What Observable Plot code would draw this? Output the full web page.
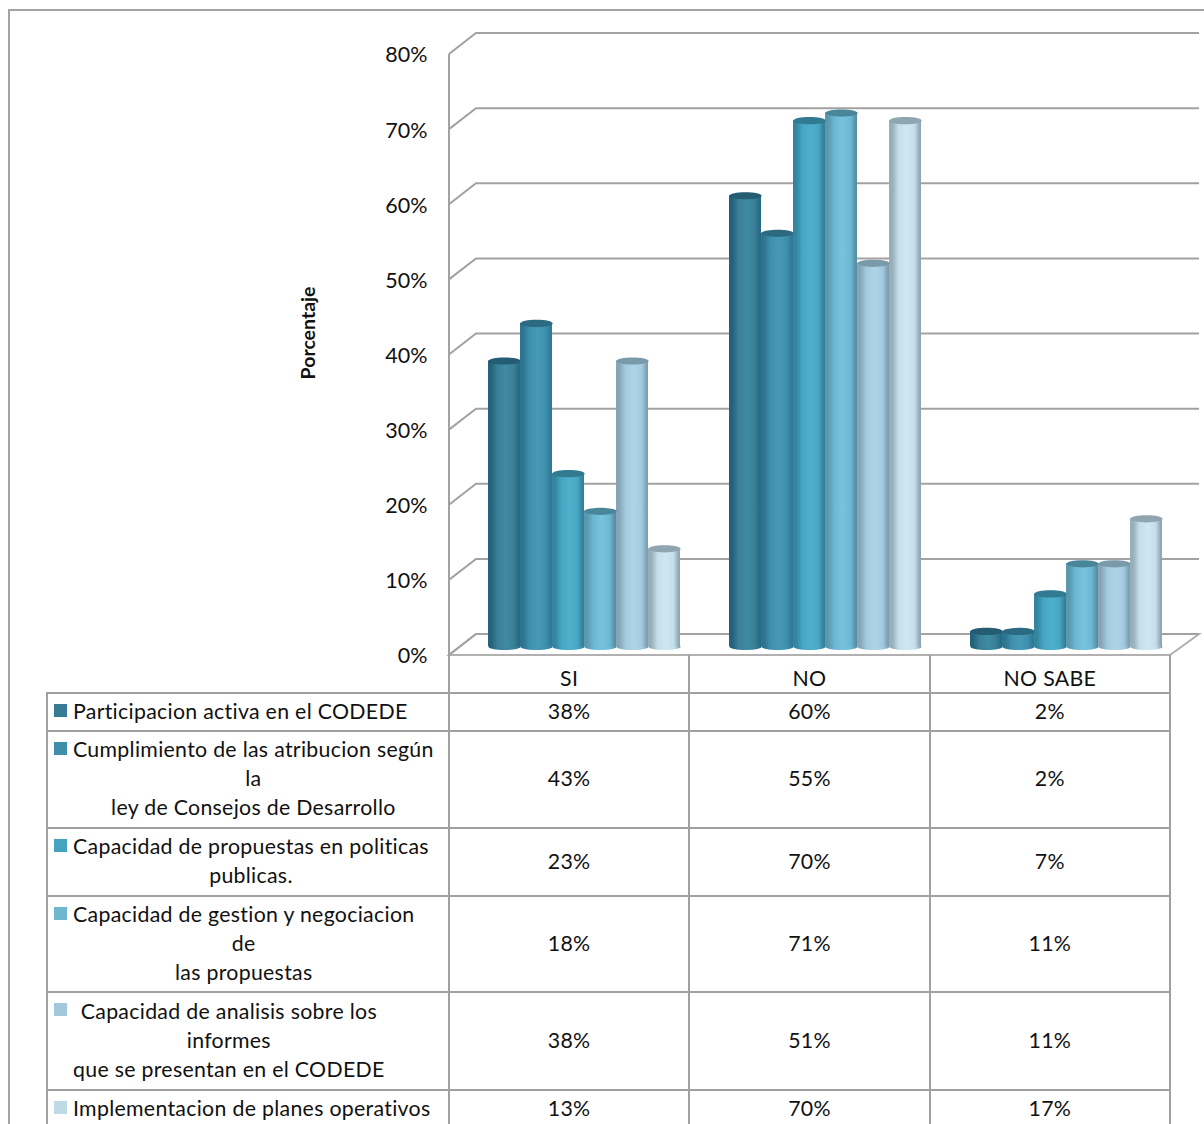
<!DOCTYPE html>
<html lang="es">
<head>
<meta charset="utf-8">
<title>Porcentaje por criterio</title>
<script src="https://cdn.jsdelivr.net/npm/d3@7"></script>
<script src="https://cdn.jsdelivr.net/npm/@observablehq/plot@0.6"></script>
<style>
  html, body { margin: 0; padding: 0; width: 1204px; height: 1124px; overflow: hidden; background: #fff; }
  body { position: relative; font-family: Lato, "Open Sans", sans-serif; color: #111; font-variant-ligatures: none; }
  #marco { position: absolute; left: 8px; top: 9px; right: -4px; bottom: -4px; border: 2px solid #a3a3a3; }
  #grafico { position: relative; height: 656px; }
  #grafico svg { overflow: visible; display: block; }
  table { position: relative; margin-left: 46px; margin-top: -1px; border-collapse: collapse; table-layout: fixed; width: 1125px; font-size: 21.3px; line-height: 29px; letter-spacing: 0.3px; }
  col.leyenda { width: 402px; }
  td { border: 2px solid #a0a0a0; text-align: center; padding: 0 0 2px; background: transparent; box-sizing: border-box; }
  tr.cabecera td { padding: 9px 0 0; line-height: 24px; }
  tr.cabecera td:first-child { border-left: none; border-top: none; }
  tr.cabecera td:not(:first-child) { border-top: none; }
  td.clave { position: relative; text-align: left; padding-left: 25px; white-space: nowrap; }
  td.clave i { position: absolute; left: 6px; top: 10px; width: 13px; height: 13px; }
  td.clave span { display: inline-block; text-align: center; }
</style>
</head>
<body>
<div id="marco"></div>
<div id="grafico"></div>
<script>
// Respuestas por criterio y categoria (porcentajes)
const categorias = ["SI", "NO", "NO SABE"];
const criterios = [
  ["Participacion activa en el CODEDE"],
  ["Cumplimiento de las atribucion según", "la", "ley de Consejos de Desarrollo"],
  ["Capacidad de propuestas en politicas", "publicas."],
  ["Capacidad de gestion y negociacion", "de", "las propuestas"],
  ["Capacidad de analisis sobre los", "informes", "que se presentan en el CODEDE"],
  ["Implementacion de planes operativos"]
];
const valoresSi = [38, 43, 23, 18, 38, 13];
const valoresNo = [60, 55, 70, 71, 51, 70];
const valoresNoSabe = [2, 2, 7, 11, 11, 17];
const marcasY = [0, 10, 20, 30, 40, 50, 60, 70, 80];

// Alturas de las filas de la tabla (cabecera y una por criterio)
const alturaCabecera = 38;
const alturasFila = [38, 97, 68, 96, 98, 38];

// Colores: clave de la tabla, sombreado del cilindro (borde, cuerpo, luz, sombra) y tapa
const coloresClave = ["#357c94", "#3f8fab", "#45a3c0", "#6fb6cf", "#a1c9db", "#bedae5"];
const sombreados = [
  ["#24627b", "#3a7f98", "#3f8aa3", "#266a83"],
  ["#2d7490", "#3f90ad", "#479ab6", "#2f7a96"],
  ["#34869f", "#46a6c3", "#4fb0cc", "#357f9a"],
  ["#5a98ae", "#6cb8d3", "#78c2dc", "#588fa5"],
  ["#86a6b7", "#a3cbe0", "#aed4e6", "#7d9fb1"],
  ["#98aeb9", "#c4deeb", "#d0e6f2", "#8fa6b3"]
];
const coloresTapa = ["#245c73", "#2c6a81", "#327a92", "#4a8699", "#7a9aa9", "#8fa5af"];

const valoresPorCategoria = [valoresSi, valoresNo, valoresNoSabe];
const filas = categorias.flatMap((categoria, c) =>
  criterios.map((_, s) => ({categoria, serie: s, valor: valoresPorCategoria[c][s]}))
);
const idsGradiente = criterios.map((_, s) => `url(#cilindro${s})`);

// Profundidad de la perspectiva: pared del fondo y posicion de los cilindros
const fondo = {dx: 27, dy: -21};
const cuerpo = {dx: 14, dy: -9};

// Elipse usada como base y tapa de cada cilindro
const elipse = {
  draw(ctx) {
    const rx = 16.2, ry = 3.6, k = 0.5523;
    ctx.moveTo(-rx, 0);
    ctx.bezierCurveTo(-rx, -ry * k, -rx * k, -ry, 0, -ry);
    ctx.bezierCurveTo(rx * k, -ry, rx, -ry * k, rx, 0);
    ctx.bezierCurveTo(rx, ry * k, rx * k, ry, 0, ry);
    ctx.bezierCurveTo(-rx * k, ry, -rx, ry * k, -rx, 0);
    ctx.closePath();
  }
};

// Paredes, suelo y cuadricula de la caja en perspectiva, derivados de la escala y
function dibujarCaja(index, scales, values, dim) {
  const g = d3.create("svg:g").attr("fill", "none").attr("stroke", "#a2a2a2").attr("stroke-width", 2);
  const x0 = dim.marginLeft, x1 = dim.width - dim.marginRight - 2, y0 = scales.y(0);
  g.append("path")
    .attr("d", `M${x0},${y0}L${x0 + fondo.dx},${y0 + fondo.dy}L${x1 + fondo.dx + 2},${y0 + fondo.dy}L${x1},${y0}Z`)
    .attr("fill", "#fff").attr("stroke", "#b2b0b0");
  for (const t of marcasY) {
    const y = scales.y(t);
    g.append("path").attr("d", `M${x0},${y}L${x0 + fondo.dx},${y + fondo.dy}L${x1 + fondo.dx + 2},${y + fondo.dy}`);
  }
  g.append("path").attr("d", `M${x0},${scales.y(80)}V${y0}`);
  return g.node();
}

const fuente = "Lato, 'Open Sans', sans-serif";
const grafico = Plot.plot({
  width: 1204,
  height: 656,
  marginLeft: 448,
  marginRight: 31,
  marginTop: 54,
  marginBottom: 1,
  style: {background: "transparent", fontFamily: fuente, color: "#111"},
  fx: {domain: categorias, padding: 0, axis: null},
  x: {domain: criterios.map((_, s) => s), paddingInner: 0, paddingOuter: 0.73, axis: null},
  y: {domain: [0, 80], axis: null},
  color: {domain: criterios.map((_, s) => s), range: idsGradiente},
  marks: [
    Plot.frame({facet: "super", render: dibujarCaja}),
    Plot.axisY({ticks: marcasY, tickFormat: d => d + "%", tickSize: 0, tickPadding: 22, dy: 1, fontSize: 21.5, label: null, fill: "#111"}),
    Plot.text(["Porcentaje"], {
      frameAnchor: "left", textAnchor: "middle", rotate: -90, dx: -141, dy: -22,
      fontWeight: "bold", fontSize: 19.5, fill: "#111", facet: "super"
    }),
    Plot.dot(filas, {
      fx: "categoria", x: "serie", y: () => 0, symbol: elipse, stroke: null,
      fill: d => d.serie, dx: cuerpo.dx, dy: cuerpo.dy
    }),
    Plot.barY(filas, {
      fx: "categoria", x: "serie", y: "valor",
      fill: d => d.serie, dx: cuerpo.dx, dy: cuerpo.dy
    }),
    Plot.dot(filas, {
      fx: "categoria", x: "serie", y: "valor", symbol: elipse, stroke: null,
      fill: {value: d => coloresTapa[d.serie], scale: null}, dx: cuerpo.dx, dy: cuerpo.dy
    })
  ]
});

// Gradientes horizontales que dan volumen a cada cilindro
const defs = d3.select(grafico).append("defs");
sombreados.forEach((tonos, s) => {
  const grad = defs.append("linearGradient").attr("id", `cilindro${s}`).attr("x1", 0).attr("x2", 1).attr("y1", 0).attr("y2", 0);
  [[0, tonos[0]], [0.1, tonos[0]], [0.3, tonos[1]], [0.55, tonos[2]], [0.8, tonos[1]], [0.96, tonos[3]], [1, tonos[3]]]
    .forEach(([o, c]) => grad.append("stop").attr("offset", o).attr("stop-color", c));
});

document.getElementById("grafico").append(grafico);

// Tabla de datos con la clave de color bajo el grafico
const tabla = d3.select("body").append("table");
const columnas = tabla.append("colgroup");
columnas.append("col").attr("class", "leyenda");
categorias.forEach(() => columnas.append("col"));
const cabecera = tabla.append("tr").attr("class", "cabecera");
cabecera.append("td").style("height", alturaCabecera + "px");
categorias.forEach(c => cabecera.append("td").text(c));
criterios.forEach((lineas, s) => {
  const fila = tabla.append("tr");
  const clave = fila.append("td").attr("class", "clave").style("height", alturasFila[s] + "px");
  clave.append("i").style("background", coloresClave[s]);
  clave.append("span").html(lineas.join("<br>"));
  valoresPorCategoria.forEach(v => fila.append("td").text(v[s] + "%"));
});
</script>
</body>
</html>
